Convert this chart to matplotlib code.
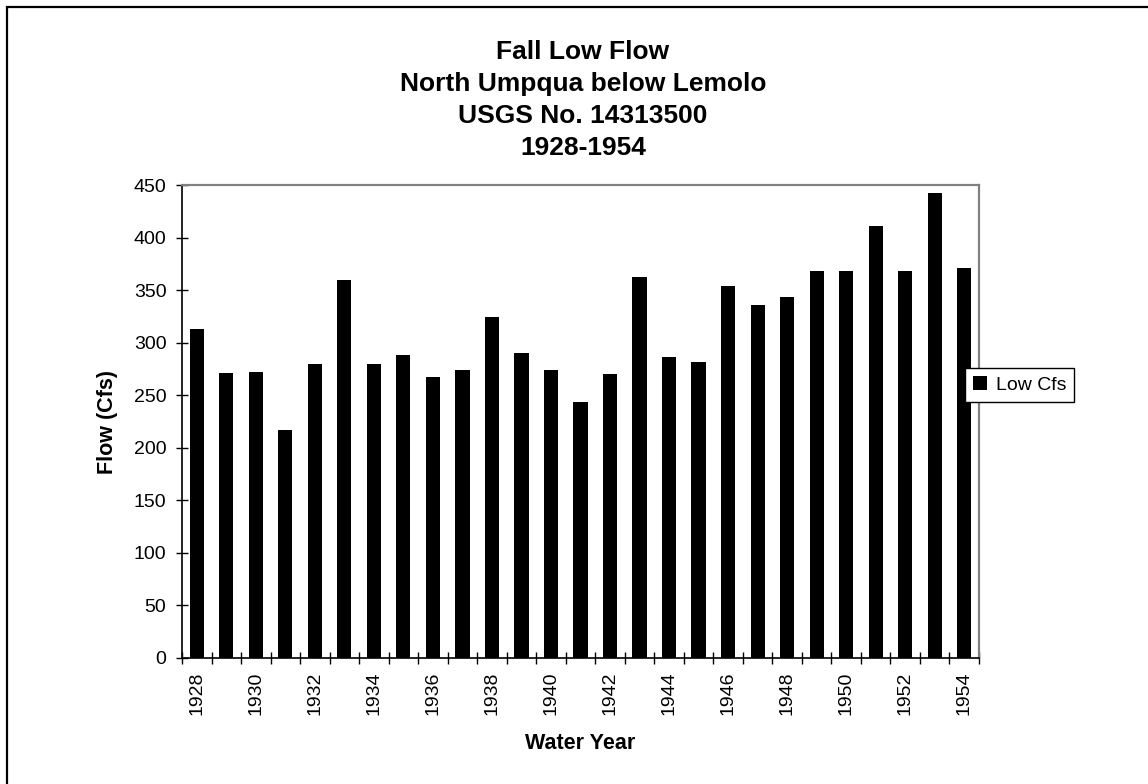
import numpy as np
import matplotlib
matplotlib.use("Agg")
import matplotlib.pyplot as plt
from matplotlib.patches import Rectangle

plt.rcParams['font.family'] = ['Liberation Sans', 'DejaVu Sans']

# fall low flow, cfs, per water year
years = list(range(1928, 1955))
low_cfs = [313, 271, 272, 217, 280, 360, 280, 288, 267, 274,
           325, 290, 274, 244, 270, 363, 286, 282, 354, 336,
           344, 368, 368, 411, 368, 443, 371]
title_lines = ["Fall Low Flow", "North Umpqua below Lemolo",
               "USGS No. 14313500", "1928-1954"]

W, H = 1148, 784
fig = plt.figure(figsize=(W / 100, H / 100), dpi=100)

# outer chart border (left and top edges show)
fig.patches.append(Rectangle((7 / W, -0.2), 1.3, 1.2 - 7 / H,
                             transform=fig.transFigure, fill=False,
                             edgecolor='black', linewidth=1.6))

left, right, top, bottom = 182, 979, 185.3, 657.7
ax = fig.add_axes([left / W, 1 - bottom / H, (right - left) / W, (bottom - top) / H])

x = np.arange(len(years))
bars = ax.bar(x, low_cfs, width=0.48, color='black', label='Low Cfs')

ax.set_xlim(-0.5, len(years) - 0.5)
ax.set_ylim(0, 450)
ax.set_yticks(np.arange(0, 451, 50))

# labels on every other year, ticks at category boundaries
ax.set_xticks(x[::2])
ax.set_xticklabels([str(y) for y in years[::2]], rotation=90)
ax.set_xticks(np.arange(-0.5, len(years)), minor=True)
ax.tick_params(axis='x', which='major', length=0, pad=10, labelsize=14)
ax.tick_params(axis='x', which='minor', direction='inout', length=8.5, width=1)
ax.tick_params(axis='y', direction='inout', length=8.5, width=1, pad=7, labelsize=14)

for side in ('top', 'right'):
    ax.spines[side].set_color('#808080')
    ax.spines[side].set_linewidth(1.6)
for side in ('left', 'bottom'):
    ax.spines[side].set_color('black')
    ax.spines[side].set_linewidth(1.2)

ax.set_xlabel('Water Year', fontsize=15.5, fontweight='bold', labelpad=13)
ax.set_ylabel('Flow (Cfs)', fontsize=15.5, fontweight='bold', labelpad=11)

for i, line in enumerate(title_lines):
    fig.text(583 / W, 1 - (59 + 32 * i) / H, line, ha='center', va='baseline',
             fontsize=19, fontweight='bold')

leg = fig.legend(handles=[bars], loc='center left',
                 bbox_to_anchor=(965 / W, 1 - 385 / H), fontsize=14,
                 fancybox=False, framealpha=1, edgecolor='black',
                 handlelength=0.75, handleheight=0.75, handletextpad=0.45,
                 borderpad=0.4, borderaxespad=0)
leg.get_frame().set_linewidth(1.0)

fig.savefig('out.png', dpi=100)
